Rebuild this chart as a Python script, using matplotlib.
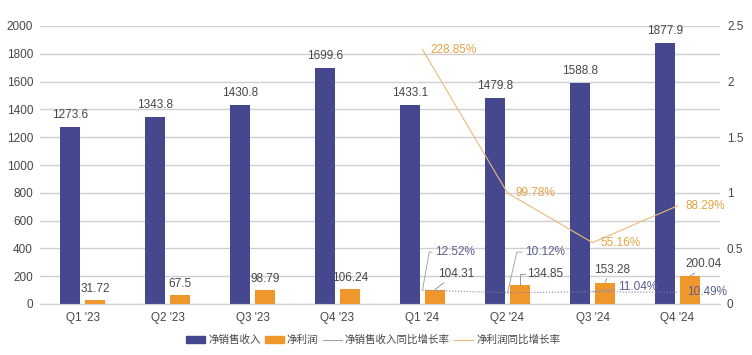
import matplotlib
matplotlib.use("Agg")
import matplotlib.pyplot as plt
from matplotlib.patches import Patch
from matplotlib.lines import Line2D
from matplotlib.ticker import FuncFormatter, MultipleLocator
import numpy as np

plt.rcParams['font.family'] = ['Liberation Sans', 'Noto Sans CJK SC', 'DejaVu Sans']

# DATA
quarters = ["Q1 '23", "Q2 '23", "Q3 '23", "Q4 '23", "Q1 '24", "Q2 '24", "Q3 '24", "Q4 '24"]
revenue = [1273.6, 1343.8, 1430.8, 1699.6, 1433.1, 1479.8, 1588.8, 1877.9]
profit = [31.72, 67.5, 98.79, 106.24, 104.31, 134.85, 153.28, 200.04]
growth_quarters = quarters[4:]
revenue_yoy = [0.1252, 0.1012, 0.1104, 0.1049]
profit_yoy = [2.2885, 0.9978, 0.5516, 0.8829]

BLUE = '#46488F'
ORANGE = '#F0972C'
TXT = '#474747'
GRID = '#CFCFCF'
BLUE_LBL = '#5B5E8E'
ORANGE_LBL = '#E3A445'

fig = plt.figure(figsize=(7.52, 3.55), dpi=100)
ax = fig.add_axes([40 / 752, 51 / 355, 680 / 752, 278 / 355])
ax2 = ax.twinx()

x = np.arange(len(quarters))
w = 0.235
off = 0.1475
ax.bar(x - off, revenue, w, color=BLUE, zorder=2)
ax.bar(x + off, profit, w, color=ORANGE, zorder=2)

ax.set_xlim(-0.5, len(quarters) - 0.5)
ax.set_ylim(0, 2000)
ax.yaxis.set_major_locator(MultipleLocator(200))
ax.grid(axis='y', color=GRID, lw=1.0, zorder=0)
ax.set_axisbelow(True)
ax.set_xticks(x)
ax.set_xticklabels(quarters)
ax.tick_params(axis='both', length=0, labelsize=8.5, labelcolor=TXT)
ax.tick_params(axis='x', pad=6)
ax.tick_params(axis='y', pad=5)
for s in ax.spines.values():
    s.set_visible(False)
ax.spines['bottom'].set_visible(True)
ax.spines['bottom'].set_color(GRID)

ax2.set_ylim(0, 2.5)
ax2.yaxis.set_major_locator(MultipleLocator(0.5))
ax2.yaxis.set_major_formatter(FuncFormatter(lambda v, p: f"{v:g}"))
ax2.tick_params(axis='y', length=0, labelsize=8.5, labelcolor=TXT, pad=5)
for s in ax2.spines.values():
    s.set_visible(False)

# growth lines
gx = x[4:]
ax2.plot(gx, revenue_yoy, color='#7F82A8', lw=0.8, ls=':', zorder=3)
ax2.plot(gx, profit_yoy, color='#E9BA78', lw=0.8, zorder=3)

# bar value labels
lead = dict(arrowstyle='-', color='#8A8A8A', lw=0.6, shrinkA=0, shrinkB=0)
for i, v in enumerate(revenue):
    ax.annotate(f"{v}", (x[i] - off, v), xytext=(0, 12), textcoords='offset pixels',
                ha='center', va='center', fontsize=8.5, color=TXT)

profit_text = ["31.72", "67.5", "98.79", "106.24", "104.31", "134.85", "153.28", "200.04"]
profit_off = [(0, 11), (0, 11), (0, 11), (0, 11), (21, 15.5), (25.5, 11.5), (7, 13), (14, 12)]
for i, v in enumerate(profit):
    dx, dy = profit_off[i]
    kw = {}
    if i == 4:
        kw = dict(arrowprops=dict(lead, relpos=(0.3, 0.1)))
    elif i == 5:
        kw = dict(arrowprops=dict(lead, relpos=(0, 0.5),
                                  connectionstyle="angle,angleA=0,angleB=90,rad=0"))
    elif i >= 6:
        kw = dict(arrowprops=dict(lead, relpos=(0.4, 0.1)))
    ax.annotate(profit_text[i], (x[i] + off, v), xytext=(dx, dy), textcoords='offset pixels',
                ha='center', va='center', fontsize=8.5, color=TXT, **kw)

# growth rate labels
rev_off = [(12.5, 38, 80), (17.5, 40.7, 77), (25.5, 4.5, None), (9.5, 0, None)]
for i, v in enumerate(revenue_yoy):
    dx, dy, ang = rev_off[i]
    kw = {}
    if ang is not None:
        kw = dict(arrowprops=dict(lead, color='#9A9A9A', relpos=(0, 0.5),
                                  connectionstyle=f"angle,angleA=0,angleB={ang},rad=0"))
    elif i == 2:
        kw = dict(arrowprops=dict(lead, color='#9A9A9A', relpos=(0, 0.35)))
    ax2.annotate(f"{v * 100:.2f}%", (gx[i], v), xytext=(dx, dy), textcoords='offset pixels',
                 ha='left', va='center', fontsize=8.5, color=BLUE_LBL, zorder=5, **kw)

for i, v in enumerate(profit_yoy):
    ax2.annotate(f"{v * 100:.2f}%", (gx[i], v), xytext=(8, 0), textcoords='offset pixels',
                 ha='left', va='center', fontsize=8.5, color=ORANGE_LBL, zorder=5)

handles = [Patch(color=BLUE), Patch(color=ORANGE),
           Line2D([], [], color='#A0A0A0', lw=0.8),
           Line2D([], [], color='#E9BA78', lw=0.8)]
labels = ['净销售收入', '净利润', '净销售收入同比增长率', '净利润同比增长率']
fig.legend(handles, labels, loc='center', bbox_to_anchor=(373 / 752, 15 / 355), ncol=4,
           frameon=False, fontsize=7.6, handlelength=1.8, handleheight=0.55,
           handletextpad=0.3, columnspacing=0.4, labelcolor=TXT)

fig.savefig('out.png', dpi=100)
